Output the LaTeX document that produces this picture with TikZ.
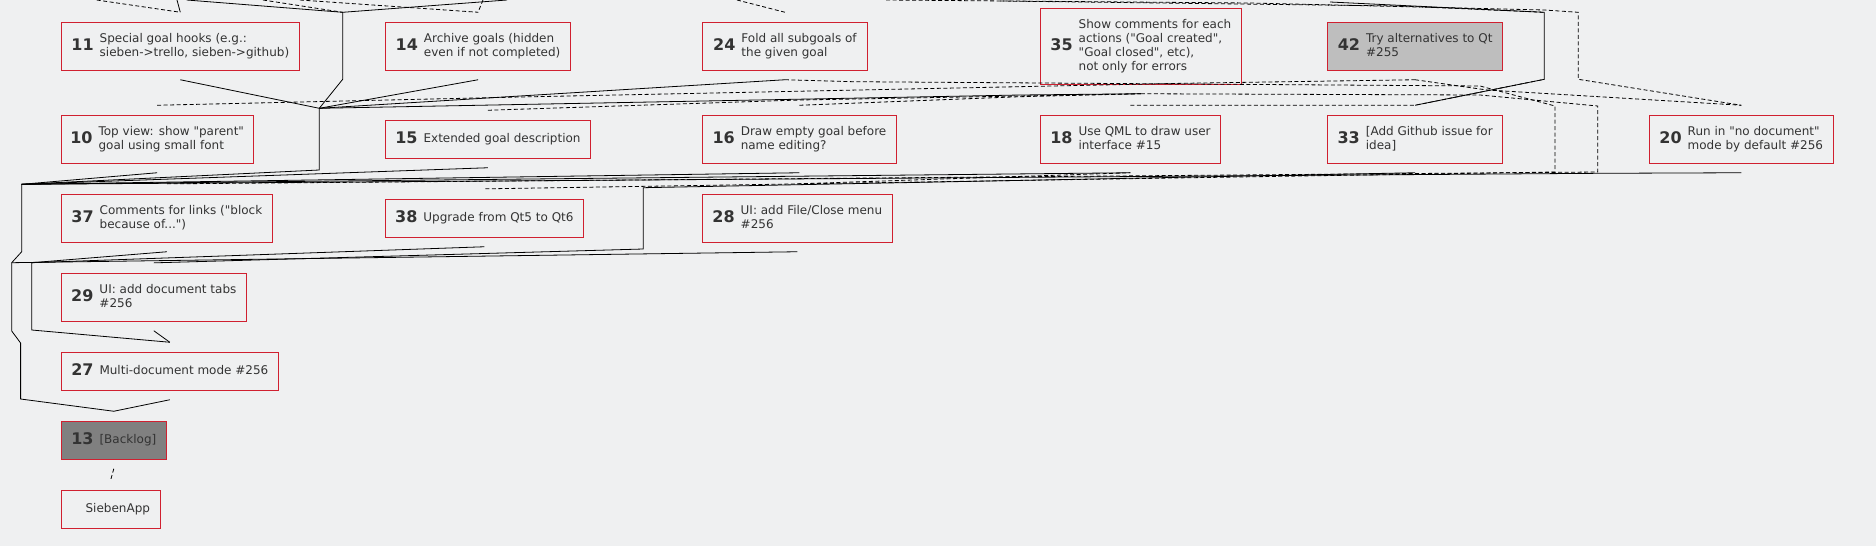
\documentclass[tikz,border=0pt]{standalone}
\usepackage{fontspec}
\setmainfont{DejaVu Sans}[Ligatures=TeXOff]
\definecolor{bgcol}{HTML}{EFF0F1}
\definecolor{goalred}{HTML}{D02030}
\definecolor{txtcol}{HTML}{333333}
\definecolor{opengray}{HTML}{BEBEBE}
\definecolor{backgray}{HTML}{808080}
\newcommand{\goaltext}[2]{\begin{tabular}{@{}c@{}}\fontsize{16}{18}\selectfont\bfseries #1\end{tabular}\hspace{6pt}\begin{tabular}{@{}l@{}}#2\end{tabular}}
\tikzset{
  goal/.style={draw=goalred,fill=bgcol,line width=0.9pt,inner sep=0pt,text=txtcol,font=\fontsize{12}{14}\selectfont},
  link/.style={line width=0.8pt},
  block/.style={line width=0.8pt,dash pattern=on 4pt off 2.5pt}
}
\begin{document}
\begin{tikzpicture}[x=1pt,y=-1pt]
   \fill[bgcol] (0,0) rectangle (1876,546);
   \useasboundingbox (0,0) rectangle (1876,546);

   \node[goal,minimum width=238pt,minimum height=47.6pt] (g11) at (180.3,46.5) {\goaltext{11}{Special goal hooks (e.g.:\\sieben->trello, sieben->github)}};
   \node[goal,minimum width=185.1pt,minimum height=47.6pt] (g14) at (478.05,46.5) {\goaltext{14}{Archive goals (hidden\\even if not completed)}};
   \node[goal,minimum width=165pt,minimum height=47.6pt] (g24) at (784.9,46.5) {\goaltext{24}{Fold all subgoals of\\the given goal}};
   \node[goal,minimum width=201.1pt,minimum height=76pt] (g35) at (1140.85,46.3) {\goaltext{35}{Show comments for each\\actions ("Goal created",\\"Goal closed", etc),\\not only for errors}};
   \node[goal,fill=opengray,minimum width=175.1pt,minimum height=47.6pt] (g42) at (1415.15,46.5) {\goaltext{42}{Try alternatives to Qt\\\#255}};

   \node[goal,minimum width=191.7pt,minimum height=47.6pt] (g10) at (157.15,139.5) {\goaltext{10}{Top view: show "parent"\\goal using small font}};
   \node[goal,minimum width=204.9pt,minimum height=37.6pt] (g15) at (487.95,139.5) {\goaltext{15}{Extended goal description}};
   \node[goal,minimum width=194pt,minimum height=47.6pt] (g16) at (799.4,139.5) {\goaltext{16}{Draw empty goal before\\name editing?}};
   \node[goal,minimum width=180.3pt,minimum height=47.6pt] (g18) at (1130.45,139.5) {\goaltext{18}{Use QML to draw user\\interface \#15}};
   \node[goal,minimum width=175.1pt,minimum height=47.6pt] (g33) at (1415.15,139.5) {\goaltext{33}{[Add Github issue for\\idea]}};
   \node[goal,minimum width=184.1pt,minimum height=47.6pt] (g20) at (1741.25,139.5) {\goaltext{20}{Run in "no document"\\mode by default \#256}};

   \node[goal,minimum width=211.1pt,minimum height=48pt] (g37) at (166.85,218.3) {\goaltext{37}{Comments for links ("block\\because of...")}};
   \node[goal,minimum width=197.7pt,minimum height=38pt] (g38) at (484.35,218.3) {\goaltext{38}{Upgrade from Qt5 to Qt6}};
   \node[goal,minimum width=190.2pt,minimum height=48pt] (g28) at (797.3,218.3) {\goaltext{28}{UI: add File/Close menu\\\#256}};

   \node[goal,minimum width=185pt,minimum height=48pt] (g29) at (153.8,297.3) {\goaltext{29}{UI: add document tabs\\\#256}};
   \node[goal,minimum width=217pt,minimum height=37.6pt] (g27) at (169.8,371.5) {\goaltext{27}{Multi-document mode \#256}};
   \node[goal,fill=backgray,minimum width=105pt,minimum height=37.6pt] (g13) at (113.8,440.5) {\goaltext{13}{[Backlog]}};
   \node[goal,minimum width=99pt,minimum height=38.3pt] (gSA) at (110.8,509.15) {\hspace*{14pt}SiebenApp};

   \foreach \g in {11,14,24,35,42,10,15,16,18,33,20,37,38,28,29,27,13,SA}
     {\coordinate (t\g) at ([yshift=10pt]g\g.north);
      \coordinate (b\g) at ([yshift=-9pt]g\g.south);}

   \coordinate (v1t) at (342.7,12.3);  \coordinate (v1b) at (342.7,79.3);
   \coordinate (v2t) at (1544.3,12.3); \coordinate (v2b) at (1544.3,79.3);
   \coordinate (v3t) at (1578.3,12.3); \coordinate (v3b) at (1578.3,79.3);
   \coordinate (j1t) at (319.3,108.3); \coordinate (j1b) at (319.3,170);
   \coordinate (v4t) at (1555,106);    \coordinate (v4b) at (1555,172);
   \coordinate (v5t) at (1597.7,106);  \coordinate (v5b) at (1597.7,172);
   \coordinate (v6t) at (643.3,187.7); \coordinate (v6b) at (643.3,249);
   \coordinate (l1t) at (21.7,184.3);  \coordinate (l1b) at (21.7,251.7);
   \coordinate (l2t) at (11.7,262.7);  \coordinate (l2b) at (11.7,331);
   \coordinate (l3t) at (31.7,262.7);  \coordinate (l3b) at (31.7,330);
   \coordinate (l4t) at (20.6,343);    \coordinate (l4b) at (20.6,399);

   \draw[link] (186.7,0) -- (v1t) -- (v1b) -- (j1t) -- (j1b) -- (l1t) -- (l1b) -- (l2t) -- (l2b) -- (l4t) -- (l4b) -- (t13);
   \draw[link] (177,0) -- (t11);
   \draw[link] (507,0) -- (v1t);
   \draw[link] (b11) -- (j1t);
   \draw[link] (b14) -- (j1t);
   \draw[link] (b24) -- (j1t);
   \draw[link] (b35) -- (1020,95) -- (j1t);
   \draw[link] (1330,2) -- (v2t) -- (v2b) -- (t33);
   \draw[link] (b10) -- (l1t);
   \draw[link] (b15) -- (l1t);
   \draw[link] (b16) -- (l1t);
   \draw[link] (b18) -- (l1t);
   \draw[link] (b20) -- (1600,173.3) -- (l1t);
   \draw[link] (b33) -- (v6t) -- (v6b) -- (t29);
   \draw[link] (b37) -- (l3t) -- (l3b) -- (t27);
   \draw[link] (b38) -- (l3t);
   \draw[link] (b28) -- (l2t);
   \draw[link] (b29) -- (t27);
   \draw[link] (b27) -- (t13);

   \draw[block] (96.7,0) -- (t11);
   \draw[block] (263,0) -- (v1t);
   \draw[block] (300,0) -- (t14);
   \draw[block] (483,0) -- (t14);
   \draw[block] (737,0) -- (t24);
   \draw[block] (886,0) -- (1250,3) -- (1544.3,10) -- (v3t) -- (v3b) -- (t20);
   \draw[block] (1000,1) -- (1400,6) -- (v2t);
   \draw[block] (t10) -- (520,97) -- (1183,83.3) -- (b42);
   \draw[block] (t15) -- (800,100) -- (b35);
   \draw[block] (t16) -- (1020,96.7) -- (b35);
   \draw[block] (t18) -- (t33) -- (v2b);
   \draw[block] (b42) -- (1487,90) -- (t20);
   \draw[block] (b35) -- (1480,95) -- (v5t) -- (v5b) -- (t37);
   \draw[block] (b24) -- (853,81.7) -- (1480,86) -- (v4t) -- (v4b) -- (t38);
   \draw[block] (t28) -- (b18);
   \draw[block] (b13) -- (tSA);
\end{tikzpicture}
\end{document}
